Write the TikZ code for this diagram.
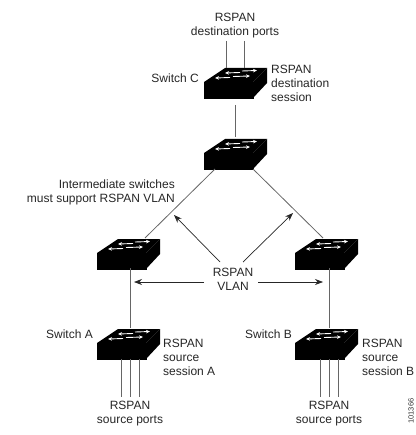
\documentclass[tikz,border=0pt]{standalone}
\usepackage{fontspec}
\setmainfont{Liberation Sans}
\usetikzlibrary{arrows.meta}
\tikzset{
  x=1pt,y=-1pt,
  lbl/.style={font=\fontsize{12}{14}\selectfont,align=center,inner sep=0pt,text=black!85},
  lbll/.style={lbl,align=left,anchor=north west},
  face/.style={fill=black,draw=black,line width=.4pt,rectangle,minimum width=49pt,minimum height=16pt,inner sep=0pt,anchor=north west},
  wire/.style={draw=black!60,line width=.8pt},
  callout/.style={draw=black!85,line width=.7pt,-{Stealth[length=8pt,width=6pt]}},
  flow/.style={draw=white,line width=.9pt,-{Stealth[length=4pt,width=3.5pt]}}
}
\newcommand{\swbox}[3]{%
  \node[face] (#1) at (#2,#3) {};
  \fill[black] (#2,#3) -- ++(49,0) -- ++(14,-14) -- ++(-42,0) -- cycle;
  \fill[black] (#2+49,#3) -- ++(14,-14) -- ++(0,15) -- ++(-14,15) -- cycle;
  \draw[flow] (#2+38,#3-11) -- (#2+53,#3-11.5);
  \draw[flow] (#2+36,#3-9.5) -- (#2+21,#3-9);
  \draw[flow] (#2+26,#3-4.5) -- (#2+11,#3-4);
  \draw[flow] (#2+29,#3-5.5) -- (#2+46,#3-6);
}
\begin{document}
\begin{tikzpicture}
\useasboundingbox (0,0) rectangle (415,435);
\swbox{swc}{204}{82}
\swbox{swm}{204}{153}
\swbox{swl}{97}{253}
\swbox{swr}{295}{253}
\swbox{swa}{97}{343}
\swbox{swb}{295}{343}
% labels
\node[lbl] (tdst) at (235,26) {RSPAN\\destination ports};
\node[lbl,anchor=east] (tc) at (199,78) {Switch C};
\node[lbll] (tsess) at (271,65) {RSPAN\\destination\\session};
\node[lbl,align=right,anchor=east] (tint) at (175,192) {Intermediate switches\\must support RSPAN VLAN};
\node[lbl] (tvlan) at (233,279) {RSPAN\\VLAN};
\node[lbl,anchor=east] (ta) at (93,334) {Switch A};
\node[lbl,anchor=east] (tb) at (292,334) {Switch B};
\node[lbll] (tsa) at (163,339) {RSPAN\\source\\session A};
\node[lbll] (tsb) at (362,339) {RSPAN\\source\\session B};
\node[lbl] (tpa) at (130,414) {RSPAN\\source ports};
\node[lbl] (tpb) at (329,414) {RSPAN\\source ports};
\node[font=\fontsize{7.5}{8}\selectfont,rotate=90,inner sep=0pt,text=black!80] (tid) at (411,411) {101366};
% wires
\coordinate (d1) at (226,41); \coordinate (d2) at (244,41);
\draw[wire] (d1) -- (226,68);
\draw[wire] (d2) -- (244,68);
\draw[wire] (235,105) -- (235,137);
\draw[wire] (215,169) -- (145,238);
\draw[wire] (253,169) -- (323,238);
\draw[wire] (130,268) -- (130,328);
\draw[wire] (329,268) -- (329,328);
\foreach \i in {121,130,139}{\draw[wire] (\i,359) -- (\i,397);}
\foreach \i in {320,329,338}{\draw[wire] (\i,359) -- (\i,397);}
% arrows
\draw[callout] (220,262) -- (174,215);
\draw[callout] (243,262) -- (293,213);
\draw[callout] (204,282) -- (134,282);
\draw[callout] (258,282) -- (323,282);
\end{tikzpicture}
\end{document}
